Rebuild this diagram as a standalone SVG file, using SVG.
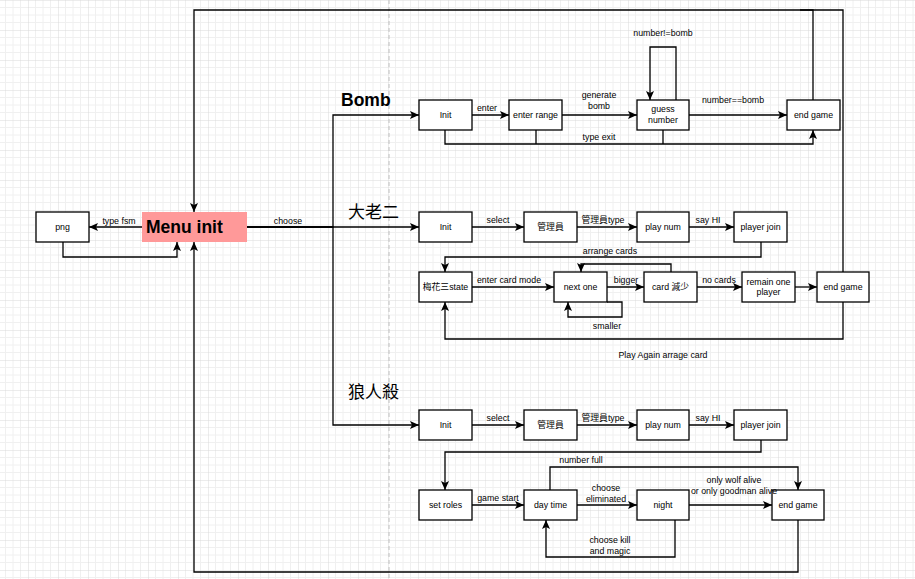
<svg xmlns="http://www.w3.org/2000/svg" width="915" height="579" viewBox="0 0 915 579">
<defs>
<pattern id="grid" patternUnits="userSpaceOnUse" x="28" y="0" width="30" height="30">
<path d="M7.5,0V30M15,0V30M22.5,0V30M0,7.5H30M0,15H30M0,22.5H30" stroke="#f0f0f0" stroke-width="1" fill="none"/>
<path d="M0,0V30M0,0H30" stroke="#d9d9d9" stroke-width="1" fill="none"/>
</pattern>
<marker id="arr" markerUnits="userSpaceOnUse" markerWidth="10" markerHeight="10" refX="9" refY="4" orient="auto">
<path d="M0,0 L9,4 L0,8 L2,4 Z" fill="#000"/>
</marker>
<style>
.box{fill:#fff;stroke:#000;stroke-width:1.3}
.t{font-family:"Liberation Sans","Noto Sans CJK TC",sans-serif;font-size:8.8px;fill:#000;text-anchor:middle}
.big{font-family:"Liberation Sans","Noto Sans CJK TC",sans-serif;font-size:17.5px;font-weight:bold;fill:#000}
.cjk{font-family:"Noto Sans CJK TC",sans-serif;font-size:17px;fill:#000}
.e{fill:none;stroke:#000;stroke-width:1.3}
.a{marker-end:url(#arr)}
</style>
</defs>
<rect width="915" height="579" fill="#fff"/>
<rect width="915" height="579" fill="url(#grid)"/>
<line x1="389" y1="0" x2="389" y2="579" stroke="#c8c8c8" stroke-width="1.2" stroke-dasharray="4,3"/>

<g id="connectors">
<path class="e a" d="M142,227H89"/>
<path class="e a" d="M63,242V257H177V242"/>
<path class="e a" d="M247,227H333V115H419"/>
<path class="e a" d="M247,227H419"/>
<path class="e a" d="M247,227H333V425H419"/>
<path class="e a" d="M472,115H509"/>
<path class="e a" d="M562,115H637"/>
<path class="e a" d="M689,115H787"/>
<path class="e a" d="M676,100V47H650V100"/>
<path class="e a" d="M445,130V144H813V130"/>
<path class="e" d="M536,130V144M663,130V144"/>
<path class="e a" d="M813,100V10H194V212"/>
<path class="e" d="M843,272V10H800"/>
<path class="e a" d="M472,227H524"/>
<path class="e a" d="M577,227H637"/>
<path class="e a" d="M689,227H734"/>
<path class="e a" d="M761,242V257H445V272"/>
<path class="e a" d="M472,287H554"/>
<path class="e a" d="M607,287H644"/>
<path class="e a" d="M697,287H742"/>
<path class="e a" d="M795,287H817"/>
<path class="e a" d="M671,272V264H581V272"/>
<path class="e a" d="M607,302H622V317H568V302"/>
<path class="e a" d="M843,302V339H445V302"/>
<path class="e a" d="M472,425H524"/>
<path class="e a" d="M577,425H637"/>
<path class="e a" d="M689,425H734"/>
<path class="e a" d="M761,440V452H445V490"/>
<path class="e a" d="M472,505H524"/>
<path class="e a" d="M577,505H637"/>
<path class="e a" d="M689,505H772"/>
<path class="e a" d="M550,490V467H798V490"/>
<path class="e a" d="M675,520V557H546V520"/>
<path class="e a" d="M798,520V572H194V242"/>
</g>

<g id="title-bomb"><text class="big" x="341" y="106">Bomb</text></g>
<g id="title-dalaoer"><text class="cjk" x="348" y="218">大老二</text></g>
<g id="title-langrensha"><text class="cjk" x="348" y="398">狼人殺</text></g>

<g id="menu-init"><rect x="142" y="212" width="105" height="30" fill="#ff9999"/><text class="big" x="146" y="233">Menu init</text></g>
<g id="png"><rect class="box" x="36" y="212" width="53" height="30"/><text class="t" x="62.5" y="230">png</text></g>

<g id="bomb-init"><rect class="box" x="419" y="100" width="53" height="30"/><text class="t" x="445.5" y="118">Init</text></g>
<g id="bomb-enter-range"><rect class="box" x="509" y="100" width="53" height="30"/><text class="t" x="535.5" y="118">enter range</text></g>
<g id="bomb-guess-number"><rect class="box" x="637" y="100" width="52" height="30"/><text class="t" x="663" y="112">guess</text><text class="t" x="663" y="123">number</text></g>
<g id="bomb-end-game"><rect class="box" x="787" y="100" width="53" height="30"/><text class="t" x="813.5" y="118">end game</text></g>

<g id="dl-init"><rect class="box" x="419" y="212" width="53" height="30"/><text class="t" x="445.5" y="230">Init</text></g>
<g id="dl-admin"><rect class="box" x="524" y="212" width="53" height="30"/><text class="t" x="550.5" y="230">管理員</text></g>
<g id="dl-play-num"><rect class="box" x="637" y="212" width="52" height="30"/><text class="t" x="663" y="230">play num</text></g>
<g id="dl-player-join"><rect class="box" x="734" y="212" width="53" height="30"/><text class="t" x="760.5" y="230">player join</text></g>
<g id="dl-state"><rect class="box" x="419" y="272" width="53" height="30"/><text class="t" x="445.5" y="290">梅花三state</text></g>
<g id="dl-next-one"><rect class="box" x="554" y="272" width="53" height="30"/><text class="t" x="580.5" y="290">next one</text></g>
<g id="dl-card"><rect class="box" x="644" y="272" width="53" height="30"/><text class="t" x="670.5" y="290">card 減少</text></g>
<g id="dl-remain"><rect class="box" x="742" y="272" width="53" height="30"/><text class="t" x="768.5" y="285">remain one</text><text class="t" x="768.5" y="295">player</text></g>
<g id="dl-end-game"><rect class="box" x="817" y="272" width="52" height="30"/><text class="t" x="843" y="290">end game</text></g>

<g id="wolf-init"><rect class="box" x="419" y="410" width="53" height="30"/><text class="t" x="445.5" y="428">Init</text></g>
<g id="wolf-admin"><rect class="box" x="524" y="410" width="53" height="30"/><text class="t" x="550.5" y="428">管理員</text></g>
<g id="wolf-play-num"><rect class="box" x="637" y="410" width="52" height="30"/><text class="t" x="663" y="428">play num</text></g>
<g id="wolf-player-join"><rect class="box" x="734" y="410" width="53" height="30"/><text class="t" x="760.5" y="428">player join</text></g>
<g id="wolf-set-roles"><rect class="box" x="419" y="490" width="53" height="30"/><text class="t" x="445.5" y="508">set roles</text></g>
<g id="wolf-day-time"><rect class="box" x="524" y="490" width="53" height="30"/><text class="t" x="550.5" y="508">day time</text></g>
<g id="wolf-night"><rect class="box" x="637" y="490" width="52" height="30"/><text class="t" x="663" y="508">night</text></g>
<g id="wolf-end-game"><rect class="box" x="772" y="490" width="52" height="30"/><text class="t" x="798" y="508">end game</text></g>

<g id="connector-labels">
<text class="t" x="119" y="224">type fsm</text>
<text class="t" x="288" y="224">choose</text>
<text class="t" x="487" y="110.5">enter</text>
<text class="t" x="599" y="97.5">generate</text>
<text class="t" x="599" y="108.5">bomb</text>
<text class="t" x="599" y="140">type exit</text>
<text class="t" x="663" y="35.5">number!=bomb</text>
<text class="t" x="733" y="103">number==bomb</text>
<text class="t" x="498" y="223">select</text>
<text class="t" x="603" y="223">管理員type</text>
<text class="t" x="708" y="223">say HI</text>
<text class="t" x="610" y="253.5">arrange cards</text>
<text class="t" x="509" y="283">enter card mode</text>
<text class="t" x="626" y="283">bigger</text>
<text class="t" x="719" y="283">no cards</text>
<text class="t" x="607" y="328.5">smaller</text>
<text class="t" x="663" y="358">Play Again arrage card</text>
<text class="t" x="498" y="421">select</text>
<text class="t" x="603" y="421">管理員type</text>
<text class="t" x="708" y="421">say HI</text>
<text class="t" x="581" y="463">number full</text>
<text class="t" x="498" y="500.5">game start</text>
<text class="t" x="606" y="491">choose</text>
<text class="t" x="606" y="502">eliminated</text>
<text class="t" x="610" y="543">choose kill</text>
<text class="t" x="610" y="554">and magic</text>
<text class="t" x="734" y="483">only wolf alive</text>
<text class="t" x="734" y="494">or only goodman alive</text>
</g>
</svg>
